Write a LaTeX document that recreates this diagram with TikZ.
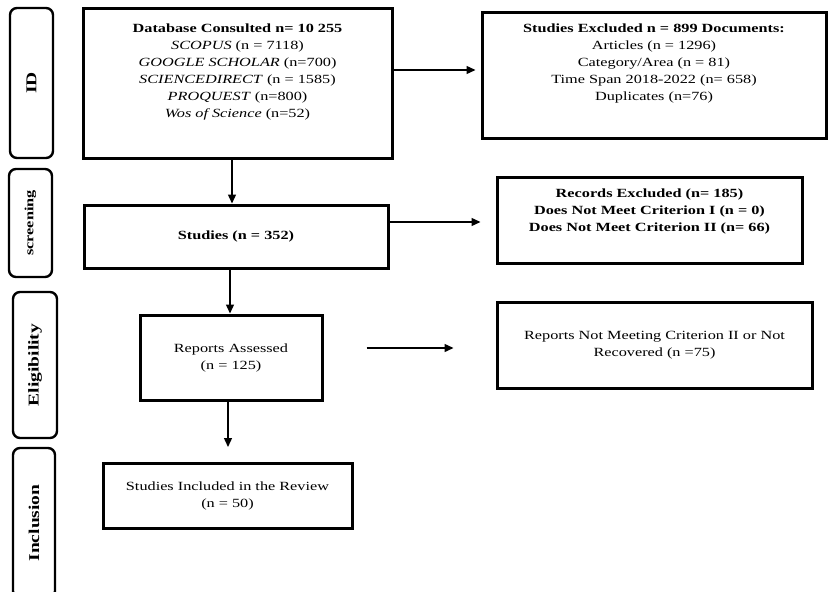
\documentclass[tikz,border=0pt]{standalone}
\usepackage{fontspec}
\setmainfont{Liberation Serif}[FakeStretch=1.3]
\usetikzlibrary{arrows.meta}

\begin{document}
\begin{tikzpicture}[x=1pt,y=-1pt,
  box/.style={draw,line width=3pt,align=center,inner sep=2pt,
    font=\fontsize{12.5}{17}\selectfont},
  phase/.style={draw,line width=2.4pt,rounded corners=7pt,rotate=90,
    font=\bfseries\fontsize{15}{17}\selectfont},
  arr/.style={line width=1.4pt,-{Triangle[length=9pt,width=8pt]}}]
\clip (0,0) rectangle (828,592);

% phases
\node[phase,minimum width=150,minimum height=43] (pid) at (31.5,83) {ID};
\node[phase,minimum width=108,minimum height=43,font=\bfseries\fontsize{12.5}{15}\selectfont] (pscr) at (30.5,223) {screening};
\node[phase,minimum width=146,minimum height=44] (pel) at (35,365) {Eligibility};
\node[phase,minimum width=150,minimum height=42] (pinc) at (34,523) {Inclusion};

% flow
\node[box,minimum width=309,minimum height=150] (db) at (237.5,83) {%
  \textbf{Database Consulted n= 10 255}\\
  \textit{SCOPUS} (n = 7118)\\
  \textit{GOOGLE SCHOLAR} (n=700)\\
  \textit{SCIENCEDIRECT} (n = 1585)\\
  \textit{PROQUEST} (n=800)\\
  \textit{Wos of Science} (n=52)\\[7pt]};
\node[box,minimum width=344,minimum height=126] (ex) at (654,75) {%
  \textbf{Studies Excluded n = 899 Documents:}\\
  Articles (n = 1296)\\
  Category/Area (n = 81)\\
  Time Span 2018-2022 (n= 658)\\
  Duplicates (n=76)\\[9pt]};
\node[box,minimum width=304,minimum height=63,font=\bfseries\fontsize{12.5}{17}\selectfont] (st) at (236,236.5) {Studies (n = 352)};
\node[box,minimum width=305,minimum height=86,font=\bfseries\fontsize{12.5}{17}\selectfont] (rex) at (649.5,220) {%
  Records Excluded (n= 185)\\
  Does Not Meet Criterion I (n = 0)\\
  Does Not Meet Criterion II (n= 66)\\[3pt]};
\node[box,minimum width=182,minimum height=85] (rep) at (231,357.5) {Reports Assessed\\(n = 125)};
\node[box,minimum width=315,minimum height=86] (nm) at (654.5,345) {Reports Not Meeting Criterion II or Not\\Recovered (n =75)};
\node[box,minimum width=249,minimum height=65] (inc) at (227.5,495.5) {Studies Included in the Review\\(n = 50)};

\draw[arr] ([xshift=-5.5pt]db.south) -- ([xshift=-5.5pt]db.south |- st.north);
\draw[arr] ([xshift=-6pt]st.south) -- ([xshift=-6pt]st.south |- rep.north);
\draw[arr] ([xshift=-3pt]rep.south) -- ([xshift=-3pt]rep.south |- 0,447);
\draw[arr,shorten >=5pt] ([yshift=13pt]db.east) -- ([yshift=13pt]db.east -| ex.west);
\draw[arr,shorten >=15pt] ([yshift=14.5pt]st.east) -- ([yshift=14.5pt]st.east -| rex.west);
\draw[arr,shorten <=43pt,shorten >=42pt] ([yshift=9.5pt]rep.east) -- ([yshift=9.5pt]rep.east -| nm.west);
\end{tikzpicture}
\end{document}
